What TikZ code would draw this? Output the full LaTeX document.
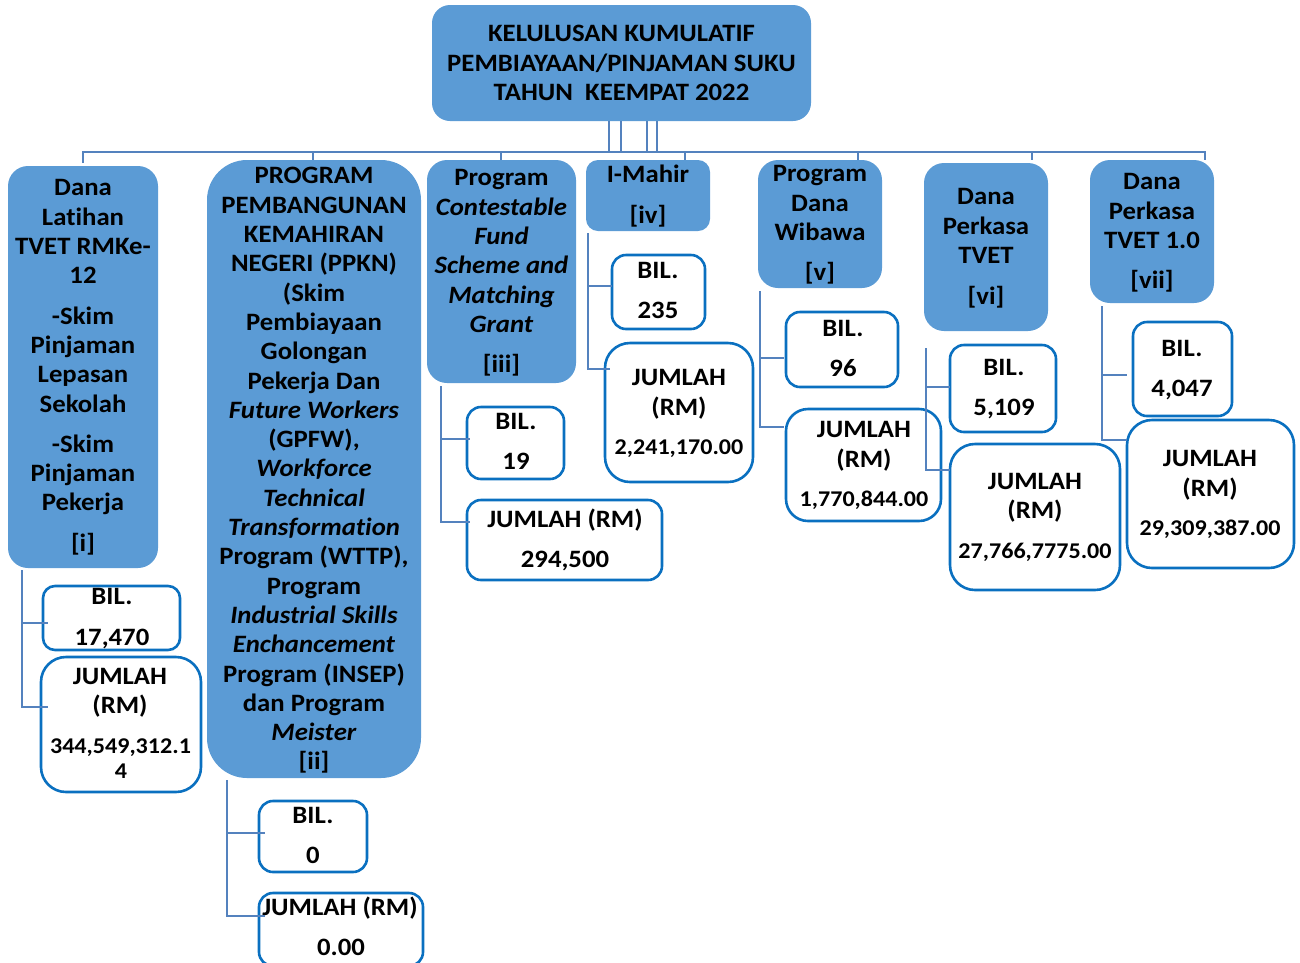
\documentclass[tikz,border=0pt]{standalone}
\usepackage{fontspec}
\setmainfont{Carlito}[FakeStretch=1.07,Ligatures=NoCommon]
\definecolor{hblue}{HTML}{5B9BD5}
\definecolor{lblue}{HTML}{5482BE}
\definecolor{bblue}{HTML}{0A70C0}
\newcommand\fs{\rule{0pt}{20pt}}
\tikzset{
 hdr/.style={fill=hblue, draw=none, rounded corners=20pt, inner sep=0},
 vbox/.style={draw=bblue, line width=2.6pt, fill=white, rounded corners=14pt, inner sep=0},
 tx/.style={font=\bfseries\fontsize{25}{29.3}\selectfont, align=center, inner sep=0, anchor=north},
 tl/.style={font=\bfseries\fontsize{25}{29.3}\selectfont, inner sep=0, anchor=base},
 tn/.style={font=\bfseries\fontsize{22.5}{26}\selectfont, inner sep=0, anchor=base},
 conn/.style={draw=lblue, line width=2pt},
}
\begin{document}
\begin{tikzpicture}[x=1pt,y=-1pt]
\useasboundingbox (0,0) rectangle (1300,962);
% header boxes
\node[hdr, minimum width=379, minimum height=116, rounded corners=18] (top) at (621.5,63) {};
\node[hdr, minimum width=150, minimum height=402] (h1) at (83,367) {};
\node[hdr, minimum width=214, minimum height=618, rounded corners=40] (h2) at (314,469) {};
\node[hdr, minimum width=149, minimum height=223] (h3) at (501.5,271.5) {};
\node[hdr, minimum width=124, minimum height=71, rounded corners=12] (h4) at (648,195.5) {};
\node[hdr, minimum width=124, minimum height=128] (h5) at (820,224) {};
\node[hdr, minimum width=124, minimum height=168] (h6) at (986,247) {};
\node[hdr, minimum width=124, minimum height=143] (h7) at (1152,231.5) {};
% value boxes
\node[vbox, minimum width=137, minimum height=64, rounded corners=12] (v1a) at (111.5,618) {};
\node[vbox, minimum width=160, minimum height=135, rounded corners=25] (v1b) at (121,724.5) {};
\node[vbox, minimum width=108, minimum height=71] (v2a) at (313,836.5) {};
\node[vbox, minimum width=164, minimum height=73] (v2b) at (341,929.5) {};
\node[vbox, minimum width=97, minimum height=72] (v3a) at (515.5,443) {};
\node[vbox, minimum width=195, minimum height=80] (v3b) at (564.5,540) {};
\node[vbox, minimum width=93, minimum height=74] (v4a) at (658.5,292) {};
\node[vbox, minimum width=148, minimum height=139, rounded corners=25] (v4b) at (679,412.5) {};
\node[vbox, minimum width=112, minimum height=75] (v5a) at (842,349.5) {};
\node[vbox, minimum width=155, minimum height=112, rounded corners=22] (v5b) at (863.5,465) {};
\node[vbox, minimum width=106, minimum height=87] (v6a) at (1003,388.5) {};
\node[vbox, minimum width=170, minimum height=146, rounded corners=25] (v6b) at (1035,517) {};
\node[vbox, minimum width=99, minimum height=94] (v7a) at (1182.5,369) {};
\node[vbox, minimum width=167, minimum height=148, rounded corners=25] (v7b) at (1210.5,494) {};
% header texts
\node[tx] (topT) at (621.5,21.7) {\fs KELULUSAN KUMULATIF\\PEMBIAYAAN/PINJAMAN SUKU\\TAHUN\ \ KEEMPAT 2022};
\node[tx] (h1T) at (83,175.7) {\fs Dana\\Latihan\\TVET RMKe-\\12\\[11pt]-Skim\\Pinjaman\\Lepasan\\Sekolah\\[11pt]-Skim\\Pinjaman\\Pekerja\\[11pt]{[i]}};
\node[tx] (h2T) at (314,163.7) {\fs PROGRAM\\PEMBANGUNAN\\KEMAHIRAN\\NEGERI (PPKN)\\(Skim\\Pembiayaan\\Golongan\\Pekerja Dan\\\textit{Future Workers}\\(GPFW),\\\textit{Workforce}\\\textit{Technical}\\\textit{Transformation}\\Program (WTTP),\\Program\\\textit{Industrial Skills}\\\textit{Enchancement}\\Program (INSEP)\\dan Program\\\textit{Meister}\\{[ii]}};
\node[tx] (h3T) at (501.5,165.7) {\fs Program\\\textit{Contestable}\\\textit{Fund}\\\textit{Scheme and}\\\textit{Matching}\\\textit{Grant}\\[11pt]{[iii]}};
\node[tx] (h4T) at (648,162.7) {\fs I-Mahir\\[11pt]{[iv]}};
\node[tx] (h5T) at (820,161.7) {\fs Program\\Dana\\Wibawa\\[11pt]{[v]}};
\node[tx] (h6T) at (986,184.7) {\fs Dana\\Perkasa\\TVET\\[12pt]{[vi]}};
\node[tx] (h7T) at (1152,169.7) {\fs Dana\\Perkasa\\TVET 1.0\\[11pt]{[vii]}};
% value texts
\node[tl] (v1aL) at (112,604.7) {BIL.};
\node[tl] (v1aN) at (112,645.7) {17,470};
\node[tl] (v1bL) at (120,684.7) {JUMLAH};
\node[tl] (v1bR) at (120,713.7) {(RM)};
\node[tn] (v1bN) at (120.5,753) {344,549,312.1};
\node[tn] (v1bM) at (121,778) {4};
\node[tl] (v2aL) at (313,823.7) {BIL.};
\node[tl] (v2aN) at (313,863.7) {0};
\node[tl] (v2bL) at (340,915.7) {JUMLAH (RM)};
\node[tl] (v2bN) at (341,955.7) {0.00};
\node[tl] (v3aL) at (516,429.7) {BIL.};
\node[tl] (v3aN) at (516,469.7) {19};
\node[tl] (v3bL) at (565,527.7) {JUMLAH (RM)};
\node[tl] (v3bN) at (565,567.7) {294,500};
\node[tl] (v4aL) at (658,278.7) {BIL.};
\node[tl] (v4aN) at (658,318.7) {235};
\node[tl] (v4bL) at (679,385.7) {JUMLAH};
\node[tl] (v4bR) at (679,415.7) {(RM)};
\node[tn] (v4bN) at (679,454) {2,241,170.00};
\node[tl] (v5aL) at (843,336.7) {BIL.};
\node[tl] (v5aN) at (843,376.7) {96};
\node[tl] (v5bL) at (864,437.7) {JUMLAH};
\node[tl] (v5bR) at (864,467.7) {(RM)};
\node[tn] (v5bN) at (864,506) {1,770,844.00};
\node[tl] (v6aL) at (1004,375.7) {BIL.};
\node[tl] (v6aN) at (1004,415.7) {5,109};
\node[tl] (v6bL) at (1035,489.7) {JUMLAH};
\node[tl] (v6bR) at (1035,518.7) {(RM)};
\node[tn] (v6bN) at (1035,558) {27,766,7775.00};
\node[tl] (v7aL) at (1182,356.7) {BIL.};
\node[tl] (v7aN) at (1182,396.7) {4,047};
\node[tl] (v7bL) at (1210,466.7) {JUMLAH};
\node[tl] (v7bR) at (1210,496.7) {(RM)};
\node[tn] (v7bN) at (1210,535) {29,309,387.00};
% connector coordinates
\coordinate (busL) at (83,152);
\coordinate (busR) at (1205,152);
\coordinate (s1) at (609,121);
\coordinate (s2) at (621,121);
\coordinate (s3) at (647,121);
\coordinate (s4) at (657,121);
\coordinate (t1) at (83,163);
\coordinate (t2) at (313,160);
\coordinate (t3) at (501,160);
\coordinate (t4) at (685,160);
\coordinate (t5) at (858,160);
\coordinate (t6) at (1032,160);
\coordinate (t7) at (1205,160);
\coordinate (c1) at (22,570);
\coordinate (c2) at (227,780);
\coordinate (c3) at (441,386);
\coordinate (c4) at (588,233);
\coordinate (c5) at (760,291);
\coordinate (c6) at (926,348);
\coordinate (c7) at (1102,306);
\coordinate (e1a) at (48,623);  \coordinate (e1b) at (48,707);
\coordinate (e2a) at (265,833); \coordinate (e2b) at (265,916);
\coordinate (e3a) at (470,439); \coordinate (e3b) at (470,522);
\coordinate (e4a) at (612,286); \coordinate (e4b) at (610,369);
\coordinate (e5a) at (784,358); \coordinate (e5b) at (784,427);
\coordinate (e6a) at (950,387); \coordinate (e6b) at (950,470);
\coordinate (e7a) at (1127,375); \coordinate (e7b) at (1127,440);
% top connectors
\foreach \s in {s1,s2,s3,s4} \draw[conn] (\s) -- (\s |- busL);
\draw[conn] (t1) |- (busR) -- (t7);
\foreach \t in {t2,t3,t4,t5,t6} \draw[conn] (\t |- busL) -- (\t);
% child connectors
\foreach \i in {1,...,7} {
  \draw[conn] (c\i) |- (e\i a);
  \draw[conn] (c\i) |- (e\i b);
}
\end{tikzpicture}
\end{document}
